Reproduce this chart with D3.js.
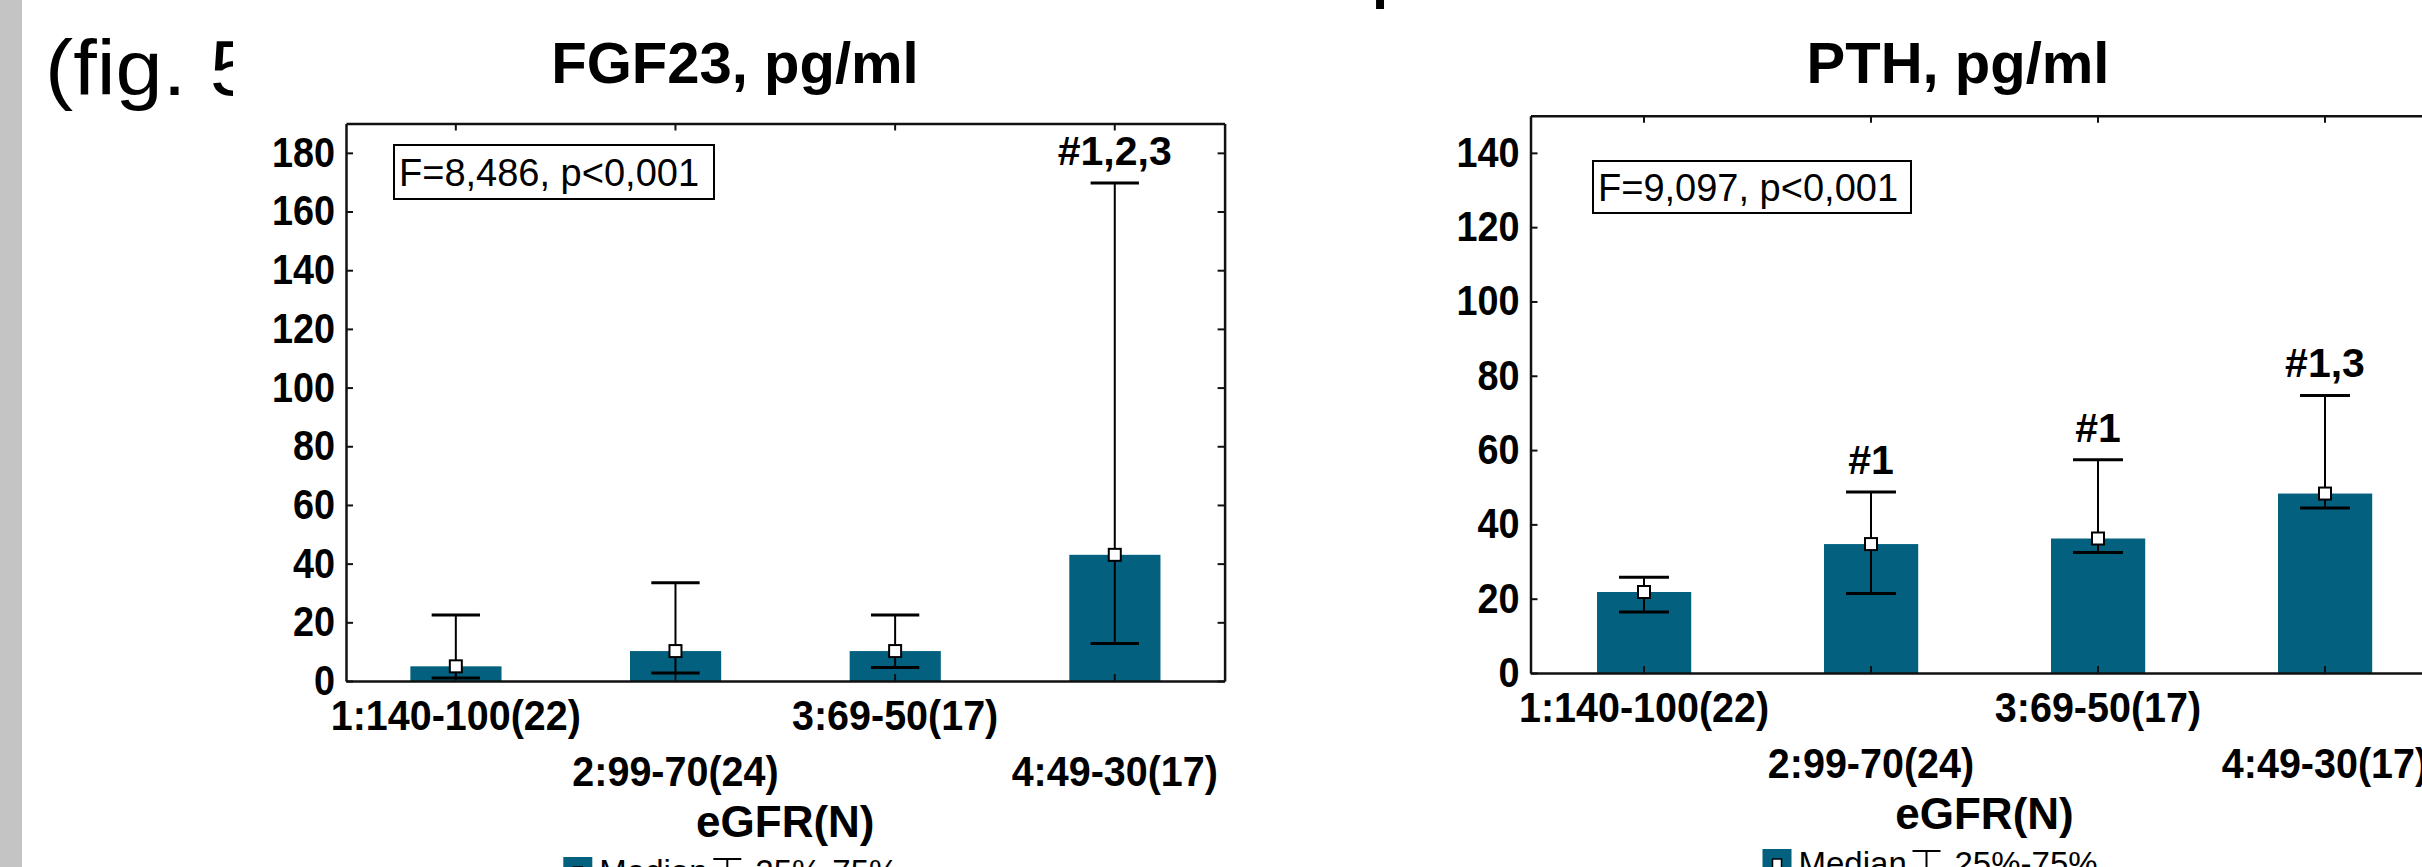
<!DOCTYPE html>
<html>
<head>
<meta charset="utf-8">
<script src="https://cdn.jsdelivr.net/npm/d3@7"></script>
<style>
  body { margin: 0; background: #fff; }
  text { font-family: "Liberation Sans", Arial, sans-serif; fill: #000; }
</style>
</head>
<body>
<div id="fig"></div>
<script>
var W = 2422, H = 867;
var teal = "#03617f";

// groups on the x axis (eGFR range and N)
var categories = ["1:140-100(22)", "2:99-70(24)", "3:69-50(17)", "4:49-30(17)"];

// FGF23, pg/ml : median and 25%-75%
var fgfMedian = [5, 10.2, 10.2, 43];
var fgfQ25 = [1, 2.7, 4.6, 12.8];
var fgfQ75 = [22.5, 33.5, 22.5, 169.7];
var fgfMarks = ["", "", "", "#1,2,3"];
var fgfTicks = [0, 20, 40, 60, 80, 100, 120, 140, 160, 180];

// PTH, pg/ml : median and 25%-75%
var pthMedian = [21.8, 34.7, 36.2, 48.3];
var pthQ25 = [16.4, 21.4, 32.4, 44.4];
var pthQ75 = [25.8, 48.7, 57.4, 74.7];
var pthMarks = ["", "#1", "#1", "#1,3"];
var pthTicks = [0, 20, 40, 60, 80, 100, 120, 140];

var svg = d3.select("#fig").append("svg")
    .attr("width", W)
    .attr("height", H);

// grey strip on the left of the page
svg.append("rect")
    .attr("x", 0).attr("y", 0)
    .attr("width", 22).attr("height", H)
    .attr("fill", "#c4c4c4");

// "(fig. 5" cut off by the chart
svg.append("clipPath").attr("id", "figclip")
    .append("rect").attr("x", 0).attr("y", 0).attr("width", 233).attr("height", 200);
svg.append("g")
    .attr("clip-path", "url(#figclip)")
    .append("text")
    .attr("transform", "translate(45,95) scale(1.1,1)")
    .style("font-size", "77px")
    .text("(fig. 5");

// descender of a letter from the line above
svg.append("text")
    .attr("x", 1372).attr("y", -3)
    .style("font-size", "58px").style("font-weight", "bold")
    .text("p");

function drawChart(cfg) {
    var x = d3.scaleBand()
        .domain(categories)
        .range([cfg.left, cfg.right]);
    var y = d3.scaleLinear()
        .domain([0, cfg.max])
        .range([cfg.bottom, cfg.top]);
    var bw = x.bandwidth();
    var cx = function (d) { return x(d) + bw / 2; };
    var g = svg.append("g");

    // bars = median
    g.append("g")
        .selectAll("rect")
        .data(categories)
        .join("rect")
        .attr("x", function (d) { return cx(d) - bw * 0.207; })
        .attr("width", bw * 0.415)
        .attr("y", function (d, i) { return y(cfg.median[i]); })
        .attr("height", function (d, i) { return cfg.bottom - y(cfg.median[i]); })
        .attr("fill", teal);

    // frame / axes
    var yl = g.append("g")
        .attr("transform", "translate(" + cfg.left + ",0)")
        .call(d3.axisLeft(y).tickValues(cfg.ticks).tickSize(-7).tickSizeOuter(0).tickPadding(11));
    yl.selectAll("text")
        .attr("x", -11 / 0.9)
        .attr("transform", "scale(0.9,1)")
        .style("font-size", "42px")
        .style("font-weight", "bold");

    g.append("g")
        .attr("transform", "translate(" + cfg.right + ",0)")
        .call(d3.axisRight(y).tickValues(cfg.ticks).tickSize(-7).tickSizeOuter(0).tickFormat(""));
    g.append("g")
        .attr("transform", "translate(0," + cfg.bottom + ")")
        .call(d3.axisBottom(x).tickSize(-7).tickSizeOuter(0).tickFormat(""));
    g.append("g")
        .attr("transform", "translate(0," + cfg.top + ")")
        .call(d3.axisTop(x).tickSize(-7).tickSizeOuter(0).tickFormat(""));
    g.selectAll(".domain").attr("stroke", "#111").attr("stroke-width", 2.5);
    g.selectAll(".tick line").attr("stroke", "#111").attr("stroke-width", 2);

    // whiskers 25%-75%
    var capW = bw * 0.22;
    var wk = g.append("g").attr("stroke", "#000");
    wk.selectAll("line.v")
        .data(categories)
        .join("line")
        .attr("class", "v")
        .attr("x1", cx).attr("x2", cx)
        .attr("y1", function (d, i) { return y(cfg.q25[i]); })
        .attr("y2", function (d, i) { return y(cfg.q75[i]); })
        .attr("stroke-width", 2);
    [cfg.q25, cfg.q75].forEach(function (q) {
        wk.append("g")
            .selectAll("line")
            .data(categories)
            .join("line")
            .attr("x1", function (d) { return cx(d) - capW / 2; })
            .attr("x2", function (d) { return cx(d) + capW / 2; })
            .attr("y1", function (d, i) { return y(q[i]); })
            .attr("y2", function (d, i) { return y(q[i]); })
            .attr("stroke-width", 3);
    });

    // median marker
    g.append("g")
        .selectAll("rect")
        .data(categories)
        .join("rect")
        .attr("x", function (d) { return cx(d) - 6; })
        .attr("y", function (d, i) { return y(cfg.median[i]) - 6; })
        .attr("width", 12).attr("height", 12)
        .attr("fill", "#fff")
        .attr("stroke", "#000")
        .attr("stroke-width", 2);

    // significance marks
    g.append("g")
        .selectAll("text")
        .data(categories)
        .join("text")
        .attr("x", cx)
        .attr("y", function (d, i) { return y(cfg.q75[i]) - 18; })
        .attr("text-anchor", "middle")
        .style("font-size", "41px")
        .style("font-weight", "bold")
        .text(function (d, i) { return cfg.marks[i]; });

    // category labels in two rows
    g.append("g")
        .selectAll("text")
        .data(categories)
        .join("text")
        .attr("transform", function (d, i) {
            return "translate(" + cx(d) + "," + (i % 2 === 0 ? cfg.row1 : cfg.row2) + ") scale(0.94,1)";
        })
        .attr("text-anchor", "middle")
        .style("font-size", "42px")
        .style("font-weight", "bold")
        .text(function (d) { return d; });

    // title
    g.append("text")
        .attr("x", cfg.titleX).attr("y", 83)
        .attr("text-anchor", "middle")
        .style("font-size", "58px")
        .style("font-weight", "bold")
        .text(cfg.title);

    // axis title
    var mid = (cfg.left + cfg.right) / 2;
    g.append("text")
        .attr("x", mid).attr("y", cfg.bottom + 156)
        .attr("text-anchor", "middle")
        .style("font-size", "44px")
        .style("font-weight", "bold")
        .text("eGFR(N)");

    // stat box
    g.append("rect")
        .attr("x", cfg.box[0]).attr("y", cfg.box[1])
        .attr("width", cfg.box[2]).attr("height", cfg.box[3])
        .attr("fill", "#fff").attr("stroke", "#000").attr("stroke-width", 2);
    g.append("text")
        .attr("x", cfg.box[0] + 5).attr("y", cfg.box[1] + cfg.box[3] / 2 + 14)
        .style("font-size", "38px")
        .text(cfg.stat);

    // legend (cut off by the page bottom)
    var ly = cfg.bottom + 176;
    var lg = g.append("g");
    lg.append("rect")
        .attr("x", mid - 222).attr("y", ly)
        .attr("width", 29).attr("height", 29)
        .attr("fill", teal);
    lg.append("rect")
        .attr("x", mid - 212).attr("y", ly + 10)
        .attr("width", 9).attr("height", 9)
        .attr("fill", "#fff").attr("stroke", "#000").attr("stroke-width", 1.5);
    lg.append("text")
        .attr("x", mid - 186).attr("y", ly + 26)
        .style("font-size", "33px")
        .text("Median");
    lg.append("line")
        .attr("x1", mid - 72).attr("x2", mid - 44)
        .attr("y1", ly + 2).attr("y2", ly + 2)
        .attr("stroke", "#000").attr("stroke-width", 2);
    lg.append("line")
        .attr("x1", mid - 58).attr("x2", mid - 58)
        .attr("y1", ly + 2).attr("y2", ly + 30)
        .attr("stroke", "#000").attr("stroke-width", 2);
    lg.append("text")
        .attr("x", mid - 30).attr("y", ly + 26)
        .style("font-size", "33px")
        .text("25%-75%");
}

drawChart({
    left: 346, right: 1224.6, top: 123.5, bottom: 681, max: 190,
    ticks: fgfTicks, median: fgfMedian, q25: fgfQ25, q75: fgfQ75, marks: fgfMarks,
    title: "FGF23, pg/ml", titleX: 735,
    stat: "F=8,486, p<0,001", box: [394, 145, 320, 54],
    row1: 730, row2: 786
});

drawChart({
    left: 1530.5, right: 2438.5, top: 115.7, bottom: 673, max: 150,
    ticks: pthTicks, median: pthMedian, q25: pthQ25, q75: pthQ75, marks: pthMarks,
    title: "PTH, pg/ml", titleX: 1958,
    stat: "F=9,097, p<0,001", box: [1593, 161, 318, 52],
    row1: 722, row2: 778
});
</script>
</body>
</html>
